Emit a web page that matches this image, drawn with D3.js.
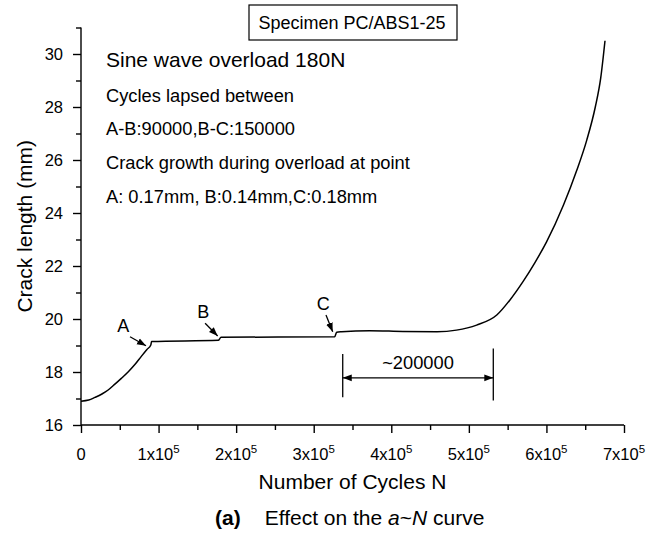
<!DOCTYPE html>
<html>
<head>
<meta charset="utf-8">
<script src="https://cdn.jsdelivr.net/npm/d3@7"></script>
<style>
  html, body { margin: 0; padding: 0; background: #fff; }
  svg { display: block; }
  text { font-family: "Liberation Sans", Arial, sans-serif; fill: #000; }
</style>
</head>
<body>
<div id="chart"></div>
<script>
// ---- data ----
const cycles = [0, 10000, 18000, 27000, 35000, 44000, 52000, 61000, 70000, 78000, 85000, 90000, 91000,
  177000, 180500,
  327000, 329600, 336000, 372000, 415000, 459000, 484000, 510000, 536000, 553000, 570000,
  585000, 600000, 622000, 639000, 652000, 663000, 670000, 675500];
const crackLength = [16.90, 16.94, 17.04, 17.17, 17.32, 17.55, 17.76, 18.01, 18.30, 18.60, 18.85, 19.02, 19.15,
  19.195, 19.31,
  19.33, 19.50, 19.52, 19.56, 19.53, 19.52, 19.58, 19.77, 20.15, 20.72, 21.42,
  22.12, 22.90, 24.30, 25.60, 26.75, 28.00, 29.10, 30.5];

const yMajorTicks = [16, 18, 20, 22, 24, 26, 28, 30];
const yMinorTicks = [17, 19, 21, 23, 25, 27, 29, 31];
const xMajorTicks = [0, 100000, 200000, 300000, 400000, 500000, 600000, 700000];
const xMinorTicks = [50000, 150000, 250000, 350000, 450000, 550000, 650000];
const xTickMantissa = ["0", "1x10", "2x10", "3x10", "4x10", "5x10", "6x10", "7x10"];
const xTickExponent = ["", "5", "5", "5", "5", "5", "5", "5"];

const specimenLabel = "Specimen PC/ABS1-25";
const infoLines = [
  "Sine wave overload 180N",
  "Cycles lapsed between",
  "A-B:90000,B-C:150000",
  "Crack growth during overload at point",
  "A: 0.17mm, B:0.14mm,C:0.18mm"
];
const pointLabels = ["A", "B", "C"];
const pointLabelPos = [[54500, 19.77], [157700, 20.28], [312400, 20.57]];
const pointArrowFrom = [[63200, 19.33], [160000, 19.84], [315800, 20.15]];
const pointArrowTo = [[83800, 18.99], [176200, 19.36], [324500, 19.52]];
const spanStartN = 337400, spanEndN = 531500;
const spanLabel = "~200000";

// ---- layout ----
const W = 651, H = 536;
const svg = d3.select("#chart").append("svg").attr("width", W).attr("height", H);

const x = d3.scaleLinear().domain([0, 700000]).range([81, 624]);
const y = d3.scaleLinear().domain([16, 31]).range([425, 27.5]);

const defs = svg.append("defs");
defs.append("marker").attr("id", "ah")
  .attr("markerUnits", "userSpaceOnUse")
  .attr("markerWidth", 10).attr("markerHeight", 8)
  .attr("refX", 9).attr("refY", 4).attr("orient", "auto-start-reverse")
  .append("path").attr("d", "M0,0.6 L9,4 L0,7.4 Z").attr("fill", "#000");

// ---- axes ----
const axisStroke = 1.4;
const yAxis = svg.append("g").attr("transform", `translate(${x(0)},0)`)
  .call(d3.axisLeft(y).tickValues(yMajorTicks).tickSize(8).tickSizeOuter(0).tickPadding(10).tickFormat(d3.format("d")));
svg.append("g").attr("transform", `translate(${x(0)},0)`)
  .call(d3.axisLeft(y).tickValues(yMinorTicks).tickSize(5).tickSizeOuter(0).tickFormat(""))
  .select(".domain").remove();

const xAxis = svg.append("g").attr("transform", `translate(0,${y(16)})`)
  .call(d3.axisBottom(x).tickValues(xMajorTicks).tickSize(8).tickSizeOuter(0).tickFormat(""));
svg.append("g").attr("transform", `translate(0,${y(16)})`)
  .call(d3.axisBottom(x).tickValues(xMinorTicks).tickSize(5).tickSizeOuter(0).tickFormat(""))
  .select(".domain").remove();

svg.selectAll(".domain, .tick line").attr("stroke", "#000").attr("stroke-width", axisStroke);
yAxis.select(".domain").attr("d", `M0,${y(31)}V${y(16)}`);
xAxis.select(".domain").attr("d", `M${x(0)},0H${x(700000)}`);

yAxis.selectAll(".tick text")
  .style("font-family", '"Liberation Sans", Arial, sans-serif')
  .style("font-size", "16.5px").attr("fill", "#000");

// x tick labels with superscript exponent
const xl = svg.append("g");
xMajorTicks.forEach((v, i) => {
  const t = xl.append("text").attr("x", x(v)).attr("y", 459.5)
    .attr("text-anchor", "middle").style("font-size", "16.5px");
  t.append("tspan").text(xTickMantissa[i]);
  if (xTickExponent[i]) {
    t.append("tspan").attr("dy", -7).style("font-size", "11.5px").text(xTickExponent[i]);
  }
});

// axis titles
svg.append("text").attr("x", (x(0) + x(700000)) / 2).attr("y", 489)
  .attr("text-anchor", "middle").style("font-size", "21px").text("Number of Cycles N");
svg.append("text").attr("transform", `translate(31.5,${(y(16) + y(31)) / 2}) rotate(-90)`)
  .attr("text-anchor", "middle").style("font-size", "21px").text("Crack length (mm)");

// caption
const cap = svg.append("text").attr("x", 215).attr("y", 525).style("font-size", "21px");
cap.append("tspan").style("font-weight", "bold").text("(a)");
cap.append("tspan").attr("dx", 24).text("Effect on the ");
cap.append("tspan").style("font-style", "italic").text("a");
cap.append("tspan").text("~");
cap.append("tspan").style("font-style", "italic").text("N");
cap.append("tspan").text(" curve");

// ---- curve ----
const pts = cycles.map((c, i) => [c, crackLength[i]]);
svg.append("path").datum(pts)
  .attr("fill", "none").attr("stroke", "#000").attr("stroke-width", 1.5)
  .attr("d", d3.line().x(d => x(d[0])).y(d => y(d[1])).curve(d3.curveMonotoneX));

// ---- specimen box ----
const boxX = 249, boxW = 208;
const box = svg.append("g");
box.append("rect").attr("x", boxX).attr("y", 5).attr("width", boxW).attr("height", 35)
  .attr("fill", "#fff").attr("stroke", "#000").attr("stroke-width", 1.2);
box.append("text").attr("x", boxX + boxW / 2 - 1).attr("y", 29.3).attr("text-anchor", "middle")
  .style("font-size", "18px").text(specimenLabel);

// ---- info text ----
const infoBaselines = [67, 101.5, 135, 168.5, 203];
infoLines.forEach((s, i) => {
  svg.append("text").attr("x", 106).attr("y", infoBaselines[i])
    .style("font-size", i === 0 ? "21px" : "18.3px").text(s);
});

// ---- point annotations ----
pointLabels.forEach((lab, i) => {
  svg.append("text").attr("x", x(pointLabelPos[i][0])).attr("y", y(pointLabelPos[i][1]) + 6.5)
    .attr("text-anchor", "middle").style("font-size", "18px").text(lab);
  svg.append("line")
    .attr("x1", x(pointArrowFrom[i][0])).attr("y1", y(pointArrowFrom[i][1]))
    .attr("x2", x(pointArrowTo[i][0])).attr("y2", y(pointArrowTo[i][1]))
    .attr("stroke", "#000").attr("stroke-width", 1.3).attr("marker-end", "url(#ah)");
});

// ---- dimension annotation ----
const dim = svg.append("g").attr("stroke", "#000").attr("stroke-width", 1.3);
dim.append("line").attr("x1", x(spanStartN)).attr("x2", x(spanStartN)).attr("y1", y(18.68)).attr("y2", y(17.05));
dim.append("line").attr("x1", x(spanEndN)).attr("x2", x(spanEndN)).attr("y1", y(18.89)).attr("y2", y(16.92));
dim.append("line").attr("x1", x(spanStartN)).attr("x2", x(spanEndN)).attr("y1", y(17.78)).attr("y2", y(17.78))
  .attr("marker-start", "url(#ah)").attr("marker-end", "url(#ah)");
svg.append("text").attr("x", x((spanStartN + spanEndN) / 2)).attr("y", 369.3)
  .attr("text-anchor", "middle").style("font-size", "18.3px").text(spanLabel);
</script>
</body>
</html>
